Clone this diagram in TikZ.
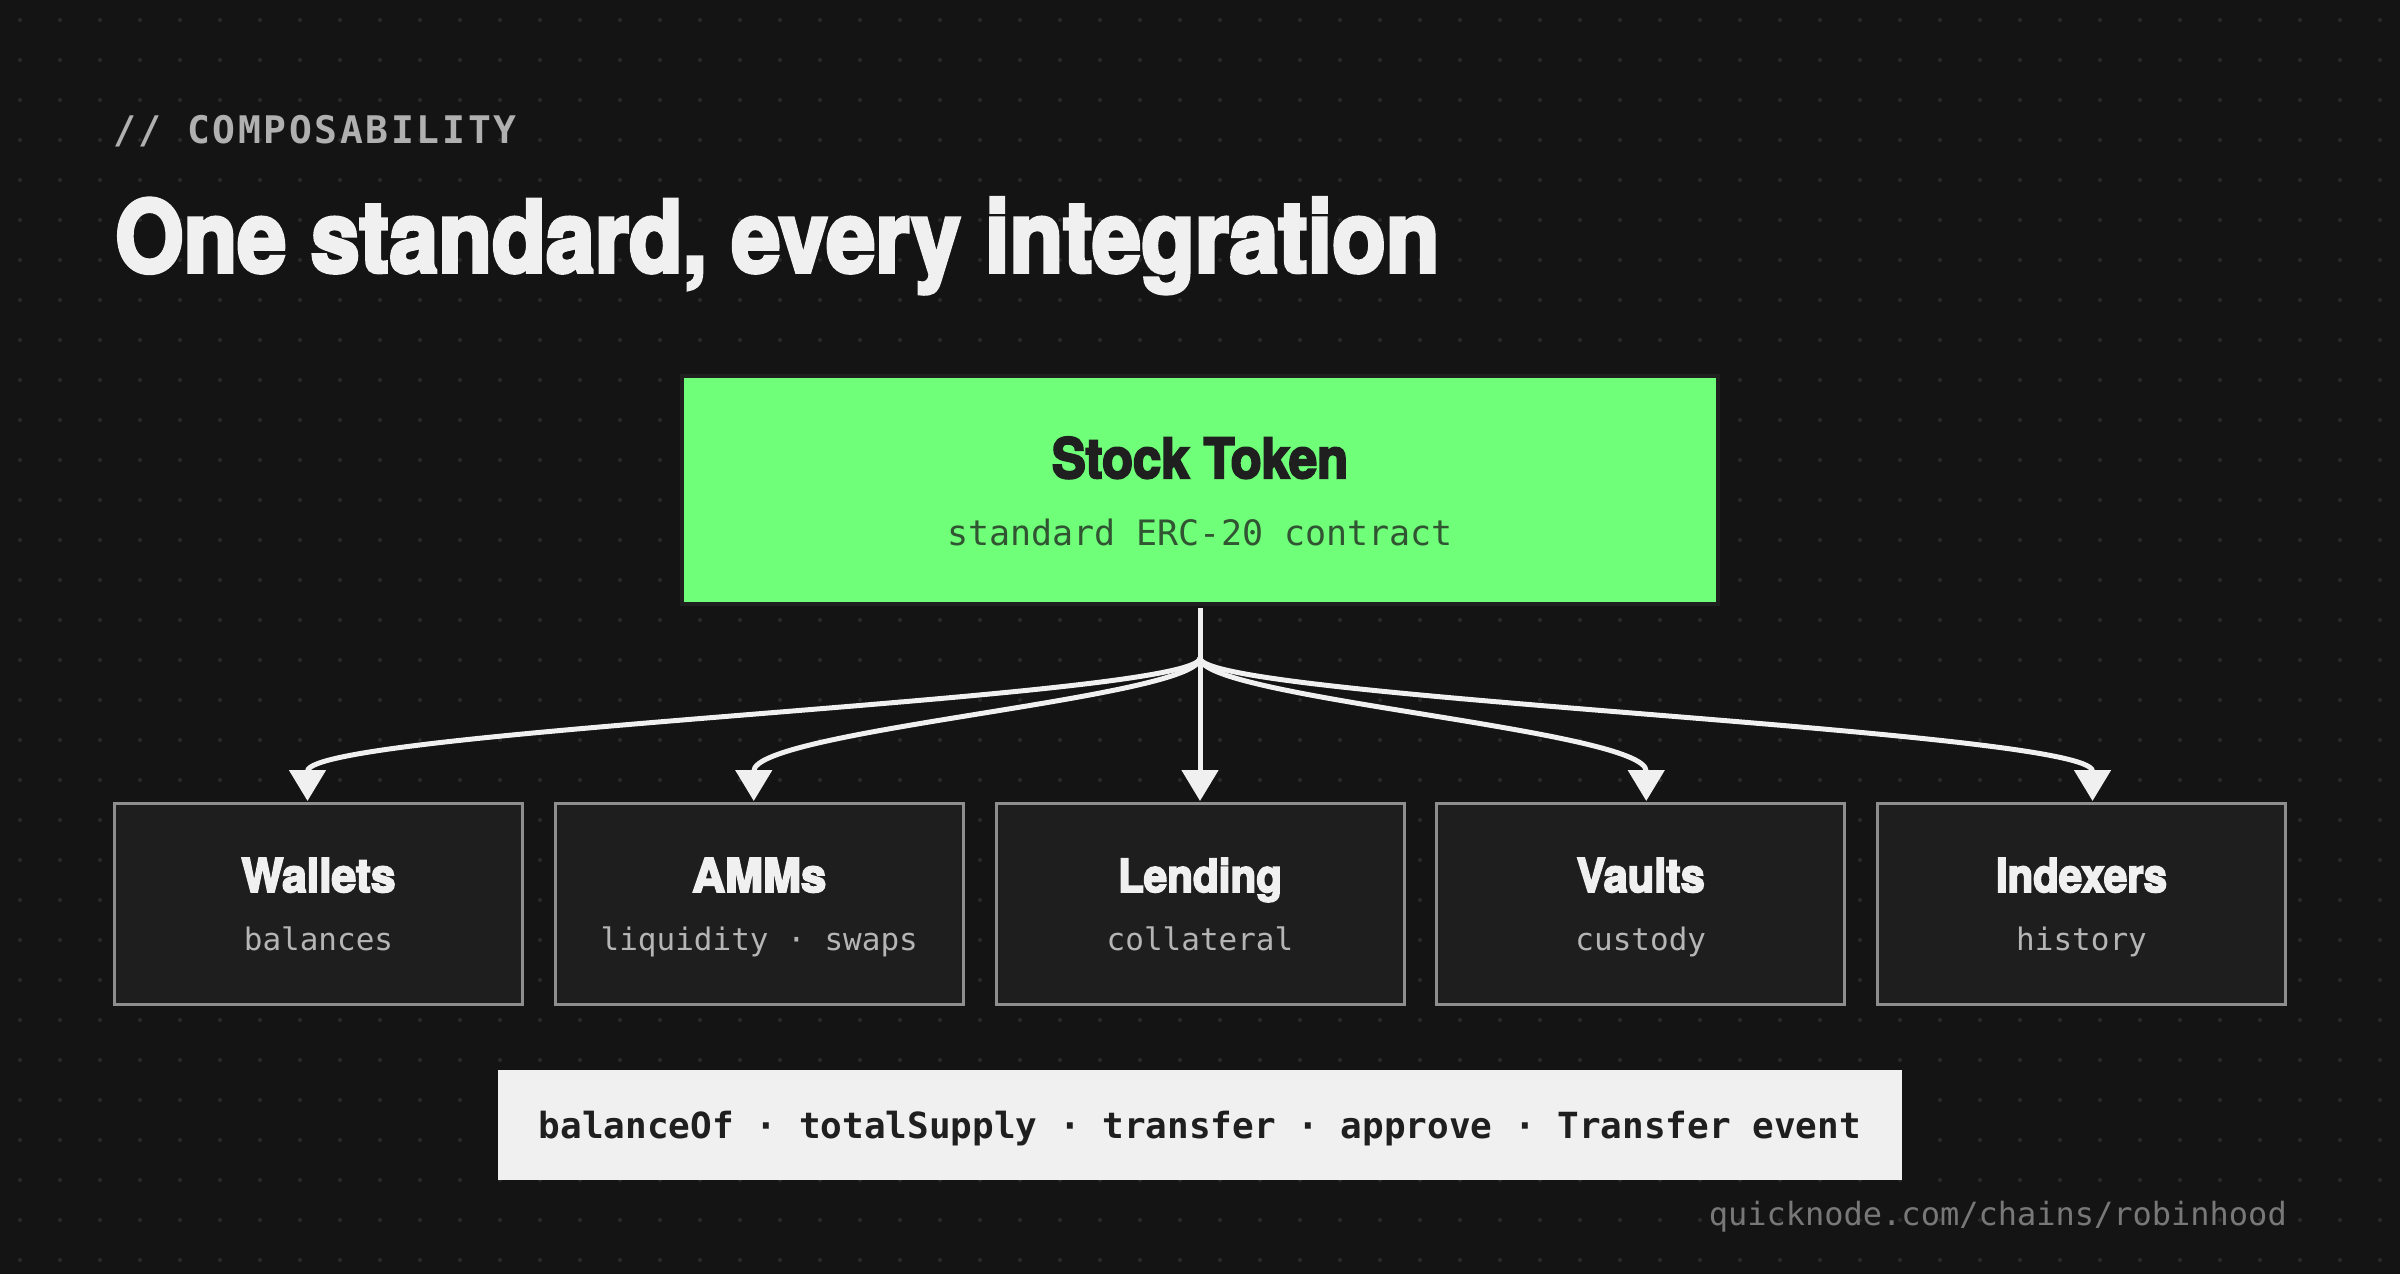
\documentclass[tikz,border=0pt]{standalone}
\usepackage{fontspec}
\usepackage{graphicx}
\usetikzlibrary{arrows.meta}
\setmainfont{TeX Gyre Heros}
\newfontfamily\headfont{TeX Gyre Heros}[BoldFeatures={FakeBold=4}]
\newfontfamily\monofont{DejaVu Sans Mono}
\newfontfamily\kickerfont{DejaVu Sans Mono}[LetterSpace=7]
\definecolor{bgc}{HTML}{141414}
\definecolor{dotc}{HTML}{2A2A2A}
\definecolor{fgc}{HTML}{F0F0F0}
\definecolor{kickc}{HTML}{B0B0B0}
\definecolor{greenc}{HTML}{6FFF78}
\definecolor{darkedge}{HTML}{1F1F1F}
\definecolor{boxfill}{HTML}{1E1E1E}
\definecolor{boxedge}{HTML}{8E8E8E}
\definecolor{subc}{HTML}{B5B5B5}
\definecolor{greentext}{HTML}{315533}
\definecolor{bartext}{HTML}{1F1F1F}
\definecolor{footc}{HTML}{787878}
\newcommand{\fitheading}[3]{\resizebox{#1pt}{#2pt}{\headfont\bfseries #3}}
\begin{document}
\begin{tikzpicture}[x=1pt,y=-1pt,
  conn/.style={draw=fgc, line width=5pt, -{Triangle[width=36pt,length=31pt]}},
  consumer/.style={draw=boxedge, fill=boxfill, line width=3pt, minimum width=408pt, minimum height=201pt, inner sep=0pt},
  boxtitle/.style={anchor=base, inner sep=0pt, text=fgc},
  boxsub/.style={anchor=base, inner sep=0pt, text=subc, font=\monofont\fontsize{31}{36}\selectfont},
]
\fill[bgc] (0,0) rectangle (2400,1274);
\useasboundingbox (0,0) rectangle (2400,1274);
\foreach \i in {0,...,59}{
  \foreach \j in {0,...,31}{
    \fill[dotc] (20+40*\i,20+40*\j) circle (2);
  }
}

% heading
\node[anchor=base west, inner sep=0pt, text=kickc, font=\kickerfont\bfseries\fontsize{38}{44}\selectfont] (kicker) at (113,143) {// COMPOSABILITY};
\node[anchor=base west, inner sep=0pt, text=fgc] (title) at (115,272) {\fitheading{1324}{74}{One standard, every integration}};

% stock token
\node[draw=darkedge, fill=greenc, line width=4pt, minimum width=1036pt, minimum height=228pt, inner sep=0pt] (st) at (1200,490) {};
\node[anchor=base, inner sep=0pt, text=bartext] (sttitle) at (1200,478) {\fitheading{296}{41}{Stock Token}};
\node[anchor=base, inner sep=0pt, text=greentext, font=\monofont\fontsize{35}{40}\selectfont] (stsub) at (1200,545) {standard ERC-20 contract};

% consumers
\node[consumer] (w) at (318.5,904) {};
\node[consumer] (a) at (759.25,904) {};
\node[consumer] (l) at (1200,904) {};
\node[consumer] (v) at (1640.75,904) {};
\node[consumer] (ix) at (2081.5,904) {};

\node[boxtitle] (wt) at (318.5,892) {\fitheading{154}{34}{Wallets}};
\node[boxtitle] (at) at (759.25,892) {\fitheading{134}{34}{AMMs}};
\node[boxtitle] (lt) at (1200,892) {\fitheading{164}{34}{Lending}};
\node[boxtitle] (vt) at (1640.75,892) {\fitheading{128}{34}{Vaults}};
\node[boxtitle] (ixt) at (2081.5,892) {\fitheading{171}{34}{Indexers}};

\node[boxsub] (ws) at (318.5,950) {balances};
\node[boxsub] (as) at (759.25,950) {liquidity · swaps};
\node[boxsub] (ls) at (1200,950) {collateral};
\node[boxsub] (vs) at (1640.75,950) {custody};
\node[boxsub] (ixs) at (2081.5,950) {history};

% connectors
\coordinate (br) at (1200,658);
\coordinate (tw) at (307.5,801);
\coordinate (ta) at (753.75,801);
\coordinate (tl) at (1200,801);
\coordinate (tv) at (1646.25,801);
\coordinate (tix) at (2092.5,801);

\draw[conn] (br) .. controls +(0,40) and +(0,-71) .. (tw);
\draw[conn] (br) .. controls +(0,40) and +(0,-71) .. (ta);
\draw[conn] (br) .. controls +(0,40) and +(0,-71) .. (tv);
\draw[conn] (br) .. controls +(0,40) and +(0,-71) .. (tix);
\draw[conn] ([yshift=-2pt]st.south) -- (tl);

% interface bar
\node[fill=fgc, minimum width=1404pt, minimum height=110pt, inner sep=0pt, text=bartext, text height=36pt, text depth=10pt, font=\monofont\bfseries\fontsize{36}{40}\selectfont] (bar) at (1200,1125) {balanceOf · totalSupply · transfer · approve · Transfer event};

% footer
\node[anchor=base east, inner sep=0pt, text=footc, font=\monofont\fontsize{32}{36}\selectfont] (foot) at (2287,1225) {quicknode.com/chains/robinhood};
\end{tikzpicture}
\end{document}
